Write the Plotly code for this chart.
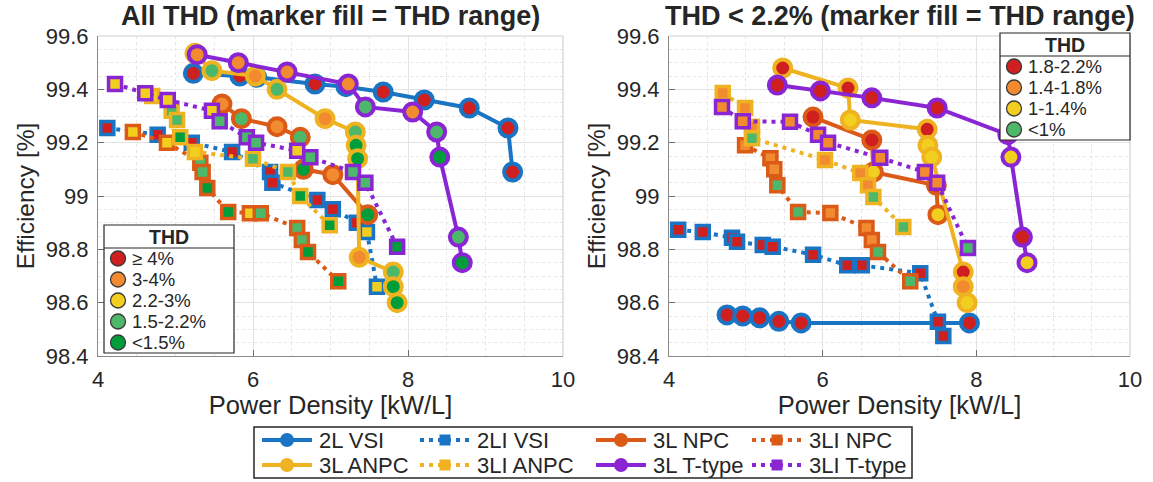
import plotly.graph_objects as go

W, H = 1153, 482

# ---------------- data ----------------
series_names = ["2L VSI", "2LI VSI", "3L NPC", "3LI NPC", "3L ANPC", "3LI ANPC", "3L T-type", "3LI T-type"]

# Left panel: All THD
L_2L_VSI_x = [5.23, 5.83, 6.05, 6.80, 7.20, 7.68, 8.21, 8.79, 9.29, 9.35]
L_2L_VSI_y = [99.46, 99.45, 99.445, 99.42, 99.41, 99.39, 99.36, 99.33, 99.255, 99.09]
L_2L_VSI_f = ["r"] * 10

L_2LI_VSI_x = [4.12, 4.77, 5.21, 5.73, 6.22, 6.25, 6.83, 7.03, 7.34, 7.47, 7.60]
L_2LI_VSI_y = [99.255, 99.23, 99.20, 99.165, 99.09, 99.05, 98.985, 98.95, 98.90, 98.865, 98.66]
L_2LI_VSI_f = ["r"] * 9 + ["y", "y"]

L_3L_NPC_x = [5.60, 5.85, 6.31, 6.61, 6.65, 7.03, 7.48]
L_3L_NPC_y = [99.345, 99.29, 99.26, 99.22, 99.10, 99.08, 98.93]
L_3L_NPC_f = ["o", "lg", "o", "lg", "dg", "o", "dg"]

L_3LI_NPC_x = [4.45, 4.89, 5.32, 5.35, 5.41, 5.68, 5.96, 6.10, 6.57, 6.63, 6.71, 7.10]
L_3LI_NPC_y = [99.24, 99.20, 99.125, 99.09, 99.03, 98.94, 98.935, 98.935, 98.88, 98.835, 98.79, 98.68]
L_3LI_NPC_f = ["y", "y", "lg", "lg", "dg", "dg", "y", "lg", "lg", "lg", "dg", "dg"]

L_3L_ANPC_x = [5.25, 5.47, 6.03, 6.31, 6.93, 7.32, 7.33, 7.35, 7.37, 7.81, 7.81, 7.86]
L_3L_ANPC_y = [99.535, 99.47, 99.45, 99.40, 99.29, 99.24, 99.19, 99.14, 98.77, 98.715, 98.66, 98.60]
L_3L_ANPC_f = ["o", "lg", "o", "lg", "o", "lg", "dg", "dg", "o", "lg", "dg", "dg"]

L_3LI_ANPC_x = [4.70, 4.95, 5.02, 5.06, 5.25, 6.00, 6.45, 6.61, 6.99]
L_3LI_ANPC_y = [99.375, 99.32, 99.285, 99.22, 99.165, 99.14, 99.09, 99.00, 98.89]
L_3LI_ANPC_f = ["y", "lg", "lg", "dg", "y", "lg", "lg", "dg", "dg"]

L_3L_TT_x = [5.28, 5.81, 6.44, 7.23, 7.45, 8.06, 8.37, 8.41, 8.65, 8.70]
L_3L_TT_y = [99.53, 99.50, 99.465, 99.42, 99.334, 99.315, 99.24, 99.146, 98.846, 98.75]
L_3L_TT_f = ["o", "o", "o", "o", "lg", "o", "lg", "dg", "lg", "dg"]

L_3LI_TT_x = [4.22, 4.61, 4.90, 5.47, 5.57, 5.92, 6.04, 6.57, 6.74, 7.29, 7.45, 7.86]
L_3LI_TT_y = [99.42, 99.385, 99.36, 99.32, 99.28, 99.22, 99.20, 99.17, 99.145, 99.09, 99.05, 98.81]
L_3LI_TT_f = ["y", "y", "y", "y", "lg", "lg", "lg", "y", "lg", "lg", "lg", "dg"]

# Right panel: THD < 2.2 %
R_2L_VSI_x = [4.755, 4.96, 5.18, 5.43, 5.72, 7.91]
R_2L_VSI_y = [98.554, 98.55, 98.543, 98.53, 98.524, 98.524]
R_2L_VSI_f = ["r"] * 6

R_2LI_VSI_x = [4.12, 4.44, 4.82, 4.885, 5.22, 5.35, 5.875, 6.32, 6.51, 7.27, 7.50, 7.57]
R_2LI_VSI_y = [98.873, 98.865, 98.843, 98.828, 98.816, 98.81, 98.78, 98.74, 98.74, 98.71, 98.528, 98.475]
R_2LI_VSI_f = ["r"] * 12

R_3L_NPC_x = [5.875, 6.64, 6.66, 7.48, 7.50]
R_3L_NPC_y = [99.296, 99.21, 99.09, 99.04, 98.93]
R_3L_NPC_f = ["r", "r", "y", "r", "y"]

R_3LI_NPC_x = [4.99, 5.32, 5.37, 5.41, 5.68, 6.10, 6.57, 6.64, 6.72, 7.14]
R_3LI_NPC_y = [99.19, 99.142, 99.10, 99.04, 98.94, 98.936, 98.88, 98.835, 98.79, 98.68]
R_3LI_NPC_f = ["o", "o", "o", "lg", "lg", "o", "o", "o", "lg", "lg"]

R_3L_ANPC_x = [5.48, 6.33, 6.36, 7.36, 7.37, 7.42, 7.83, 7.83, 7.88]
R_3L_ANPC_y = [99.48, 99.405, 99.285, 99.25, 99.19, 99.146, 98.715, 98.66, 98.60]
R_3L_ANPC_f = ["r", "r", "y", "r", "y", "y", "r", "o", "y"]

R_3LI_ANPC_x = [4.70, 4.99, 5.08, 5.08, 6.03, 6.49, 6.59, 6.66, 7.05]
R_3LI_ANPC_y = [99.386, 99.33, 99.26, 99.217, 99.135, 99.086, 99.04, 98.996, 98.884]
R_3LI_ANPC_f = ["o", "o", "o", "lg", "o", "o", "o", "lg", "lg"]

R_3L_TT_x = [5.41, 5.97, 6.64, 7.49, 8.41, 8.45, 8.60, 8.66]
R_3L_TT_y = [99.416, 99.394, 99.368, 99.33, 99.23, 99.146, 98.846, 98.75]
R_3L_TT_f = ["r", "r", "r", "r", "r", "y", "r", "y"]

R_3LI_TT_x = [4.69, 4.96, 5.575, 5.94, 6.07, 6.75, 7.33, 7.49, 7.89]
R_3LI_TT_y = [99.334, 99.28, 99.278, 99.23, 99.20, 99.143, 99.09, 99.05, 98.805]
R_3LI_TT_f = ["o", "o", "o", "o", "o", "o", "o", "o", "lg"]

left_thd_labels = ["\u2265 4%", "3-4%", "2.2-3%", "1.5-2.2%", "<1.5%"]
left_thd_keys = ["r", "o", "y", "lg", "dg"]
right_thd_labels = ["1.8-2.2%", "1.4-1.8%", "1-1.4%", "<1%"]
right_thd_keys = ["r", "o", "y", "lg"]

x_ticks = [4, 6, 8, 10]
y_ticks = [98.4, 98.6, 98.8, 99.0, 99.2, 99.4, 99.6]
y_tick_text = ["98.4", "98.6", "98.8", "99", "99.2", "99.4", "99.6"]

# ---------------- styles ----------------
C_BLUE, C_RED, C_YEL, C_PUR = "#1a74c4", "#dc5a17", "#efb321", "#8a25d4"
FILL = {"r": "#d01f1f", "o": "#f28b30", "y": "#f2cf1f", "lg": "#4db86a", "dg": "#009e3a"}
DOT = "4px,5px"
style = {
    "2L VSI": (C_BLUE, "circle", "solid"),
    "2LI VSI": (C_BLUE, "square", DOT),
    "3L NPC": (C_RED, "circle", "solid"),
    "3LI NPC": (C_RED, "square", DOT),
    "3L ANPC": (C_YEL, "circle", "solid"),
    "3LI ANPC": (C_YEL, "square", DOT),
    "3L T-type": (C_PUR, "circle", "solid"),
    "3LI T-type": (C_PUR, "square", DOT),
}

left_data = {
    "2L VSI": (L_2L_VSI_x, L_2L_VSI_y, L_2L_VSI_f),
    "2LI VSI": (L_2LI_VSI_x, L_2LI_VSI_y, L_2LI_VSI_f),
    "3L NPC": (L_3L_NPC_x, L_3L_NPC_y, L_3L_NPC_f),
    "3LI NPC": (L_3LI_NPC_x, L_3LI_NPC_y, L_3LI_NPC_f),
    "3L ANPC": (L_3L_ANPC_x, L_3L_ANPC_y, L_3L_ANPC_f),
    "3LI ANPC": (L_3LI_ANPC_x, L_3LI_ANPC_y, L_3LI_ANPC_f),
    "3L T-type": (L_3L_TT_x, L_3L_TT_y, L_3L_TT_f),
    "3LI T-type": (L_3LI_TT_x, L_3LI_TT_y, L_3LI_TT_f),
}
right_data = {
    "2L VSI": (R_2L_VSI_x, R_2L_VSI_y, R_2L_VSI_f),
    "2LI VSI": (R_2LI_VSI_x, R_2LI_VSI_y, R_2LI_VSI_f),
    "3L NPC": (R_3L_NPC_x, R_3L_NPC_y, R_3L_NPC_f),
    "3LI NPC": (R_3LI_NPC_x, R_3LI_NPC_y, R_3LI_NPC_f),
    "3L ANPC": (R_3L_ANPC_x, R_3L_ANPC_y, R_3L_ANPC_f),
    "3LI ANPC": (R_3LI_ANPC_x, R_3LI_ANPC_y, R_3LI_ANPC_f),
    "3L T-type": (R_3L_TT_x, R_3L_TT_y, R_3L_TT_f),
    "3LI T-type": (R_3LI_TT_x, R_3LI_TT_y, R_3LI_TT_f),
}

FONT = "Liberation Sans, Arial, sans-serif"
TXT = "#262626"

fig = go.Figure()

for data, xa, ya in [(left_data, "x", "y"), (right_data, "x2", "y2")]:
    for name in series_names:
        xs, ys, fs = data[name]
        col, sym, dash = style[name]
        circ = sym == "circle"
        fig.add_trace(go.Scatter(
            x=xs, y=ys, mode="lines+markers", xaxis=xa, yaxis=ya, showlegend=False,
            line=dict(color=col, width=4, dash=dash),
            marker=dict(symbol=sym, size=17 if circ else 13,
                        color=[FILL[k] for k in fs],
                        line=dict(color=col, width=4 if circ else 3.5)),
            name=name,
        ))

# ---------------- layout ----------------
def fx(p):
    return p / W

def fy(p):
    return 1 - p / H

PANELS = [(98, 563), (669, 1130)]
TOP, BOT = 36, 356

axis_common = dict(
    showline=True, linecolor="#8a8a8a", linewidth=1.2, mirror=False,
    ticks="inside", ticklen=6, tickcolor="#6e6e6e",
    showgrid=True, gridcolor="#e2e2e2", gridwidth=1, zeroline=False,
    tickfont=dict(family=FONT, size=22, color=TXT),
)
xaxis_common = dict(axis_common, range=[4, 10], tickvals=x_ticks, ticklabelstandoff=3,
                    minor=dict(tickvals=[4.5, 5, 5.5, 6.5, 7, 7.5, 8.5, 9, 9.5],
                               showgrid=True, gridcolor="#e6e6e6", griddash="dot", ticks=""),
                    title=dict(text="Power Density [kW/L]", font=dict(family=FONT, size=25.5, color=TXT), standoff=4))
yaxis_common = dict(axis_common, range=[98.4, 99.6], tickvals=y_ticks, ticktext=y_tick_text, ticklabelstandoff=4,
                    minor=dict(tickvals=[98.4 + 0.05 * i for i in range(25)],
                               showgrid=True, gridcolor="#e6e6e6", griddash="dot", ticks=""),
                    title=dict(text="Efficiency [%]", font=dict(family=FONT, size=24.5, color=TXT), standoff=4))

fig.update_layout(
    width=W, height=H, margin=dict(l=0, r=0, t=0, b=0, autoexpand=False),
    paper_bgcolor="white", plot_bgcolor="white",
    font=dict(family=FONT, color=TXT),
    xaxis=dict(xaxis_common, domain=[fx(PANELS[0][0]), fx(PANELS[0][1])], anchor="y"),
    yaxis=dict(yaxis_common, domain=[fy(BOT), fy(TOP)], anchor="x"),
    xaxis2=dict(xaxis_common, domain=[fx(PANELS[1][0]), fx(PANELS[1][1])], anchor="y2"),
    yaxis2=dict(yaxis_common, domain=[fy(BOT), fy(TOP)], anchor="x2"),
    showlegend=False,
)

shapes = []
annotations = []
# top / right frame lines (lighter)
for (x0, x1) in PANELS:
    shapes.append(dict(type="line", xref="paper", yref="paper", x0=fx(x0), x1=fx(x1), y0=fy(TOP), y1=fy(TOP),
                       line=dict(color="#d0d0d0", width=1.2)))
    shapes.append(dict(type="line", xref="paper", yref="paper", x0=fx(x1), x1=fx(x1), y0=fy(TOP), y1=fy(BOT),
                       line=dict(color="#d0d0d0", width=1.2)))

# titles
titles = ["All THD (marker fill = THD range)", "THD < 2.2% (marker fill = THD range)"]
for (x0, x1), t in zip(PANELS, titles):
    annotations.append(dict(text="<b>%s</b>" % t, xref="paper", yref="paper", x=fx((x0 + x1) / 2), y=fy(16),
                            xanchor="center", yanchor="middle", showarrow=False,
                            font=dict(family=FONT, size=27, color=TXT)))


def marker_shape(sym, cx, cy, half, fill, lcol, lw):
    return dict(type="circle" if sym == "circle" else "rect", xref="paper", yref="paper",
                xsizemode="pixel", ysizemode="pixel", xanchor=fx(cx), yanchor=fy(cy),
                x0=-half, x1=half, y0=-half, y1=half,
                fillcolor=fill, line=dict(color=lcol, width=lw), layer="above")


# THD legend boxes
THD_STEP = 21
HEAD_H = 23


def thd_legend(bx0, by0, bx1, labels, keys):
    n = len(labels)
    header_y = by0 + HEAD_H
    by1 = header_y + n * THD_STEP
    shapes.append(dict(type="rect", xref="paper", yref="paper", x0=fx(bx0), x1=fx(bx1), y0=fy(by0), y1=fy(by1),
                       fillcolor="white", line=dict(color="#262626", width=1.2), layer="above"))
    shapes.append(dict(type="line", xref="paper", yref="paper", x0=fx(bx0), x1=fx(bx1), y0=fy(header_y), y1=fy(header_y),
                       line=dict(color="#262626", width=1.2), layer="above"))
    annotations.append(dict(text="<b>THD</b>", xref="paper", yref="paper", x=fx((bx0 + bx1) / 2),
                            y=fy(by0 + HEAD_H / 2), xanchor="center", yanchor="middle", showarrow=False,
                            font=dict(family=FONT, size=19.5, color=TXT)))
    for i, (lab, k) in enumerate(zip(labels, keys)):
        yc = header_y + (i + 0.5) * THD_STEP
        shapes.append(marker_shape("circle", bx0 + 14, yc, 7.5, FILL[k], "#3a3a3a", 1.3))
        annotations.append(dict(text=lab, xref="paper", yref="paper", x=fx(bx0 + 26), y=fy(yc),
                                xanchor="left", yanchor="middle", showarrow=False,
                                font=dict(family=FONT, size=18.5, color=TXT)))


thd_legend(104, 225, 234, left_thd_labels, left_thd_keys)
thd_legend(1000, 33, 1130, right_thd_labels, right_thd_keys)

# series legend (bottom)
LEG_BOX = (254, 427, 912, 478)
LEG_COLS = [262, 420, 596, 752]
LEG_ROWS = [440, 465]
shapes.append(dict(type="rect", xref="paper", yref="paper", x0=fx(LEG_BOX[0]), x1=fx(LEG_BOX[2]),
                   y0=fy(LEG_BOX[1]), y1=fy(LEG_BOX[3]), fillcolor="white",
                   line=dict(color="#262626", width=1.5), layer="above"))
for i, name in enumerate(series_names):
    col, sym, dash = style[name]
    x0 = LEG_COLS[i % 4]
    yc = LEG_ROWS[i // 4]
    shapes.append(dict(type="line", xref="paper", yref="paper", x0=fx(x0), x1=fx(x0 + 50), y0=fy(yc), y1=fy(yc),
                       line=dict(color=col, width=4, dash=dash), layer="above"))
    shapes.append(marker_shape(sym, x0 + 25, yc, 7 if sym == "circle" else 5.5, col, col, 0))
    annotations.append(dict(text=name, xref="paper", yref="paper", x=fx(x0 + 55), y=fy(yc),
                            xanchor="left", yanchor="middle", showarrow=False,
                            font=dict(family=FONT, size=22, color=TXT)))

fig.update_layout(shapes=shapes, annotations=annotations)
fig.write_html("out.html")
